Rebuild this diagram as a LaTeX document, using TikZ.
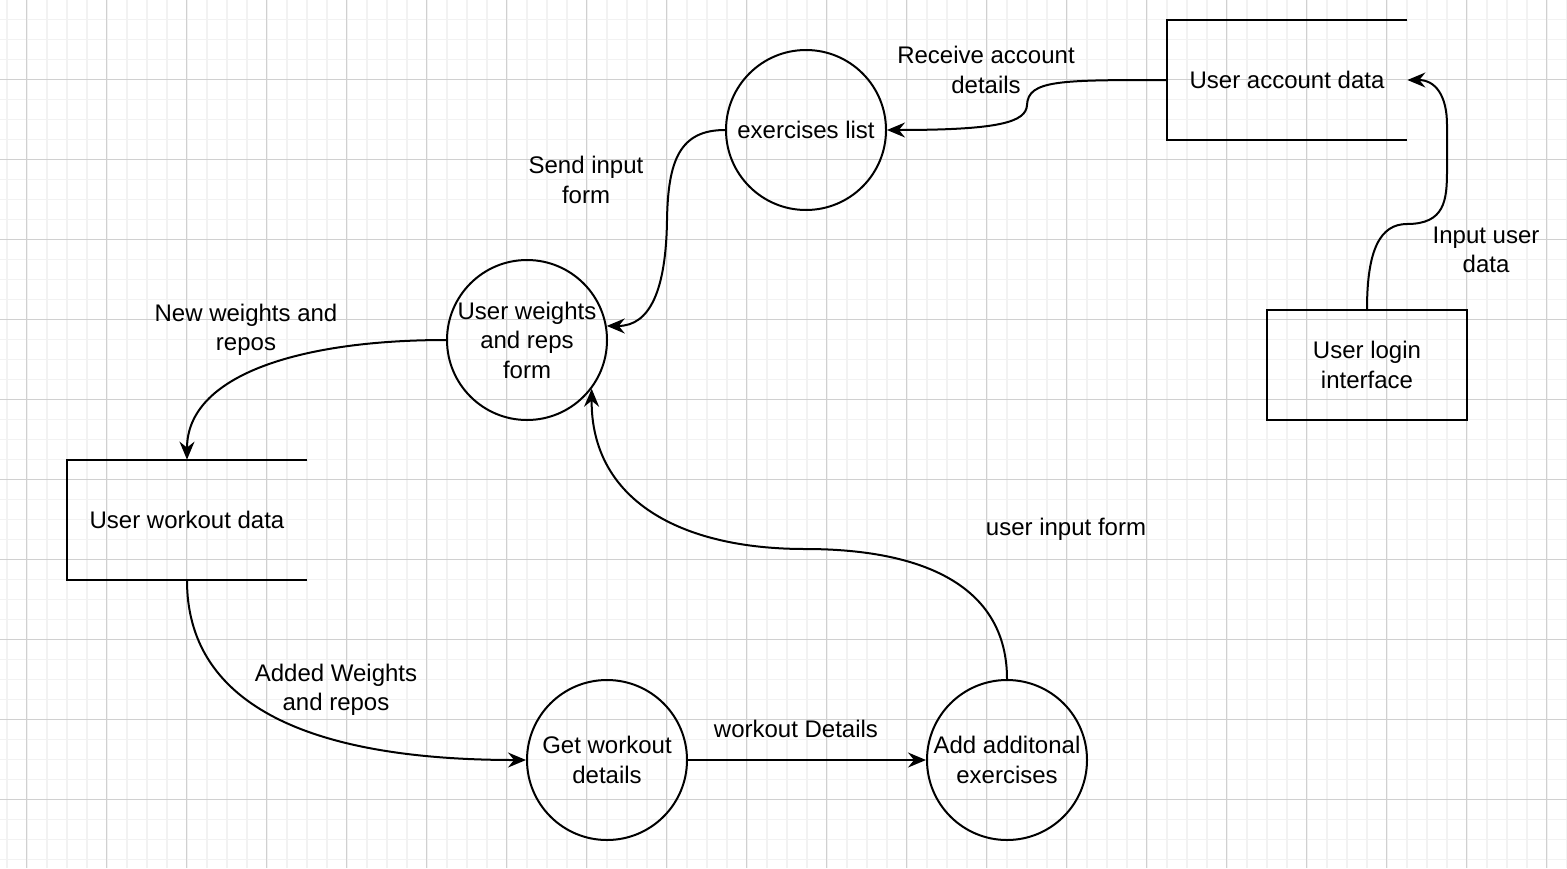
\documentclass[tikz,border=0pt]{standalone}
\usepackage{fontspec}
\setmainfont{Liberation Sans}
\usetikzlibrary{arrows.meta}
\definecolor{gridminor}{HTML}{F2F2F2}
\definecolor{gridmajor}{HTML}{D0D0D0}
\newcommand{\dfdfont}{\fontsize{12}{14.75}\selectfont}

\begin{document}
\begin{tikzpicture}[x=0.5pt, y=-0.5pt,
    proc/.style={circle, draw, line width=1pt, minimum size=80pt, inner sep=0pt, align=center, font=\dfdfont},
    store/.style={minimum width=120pt, minimum height=60pt, inner sep=0pt, font=\dfdfont},
    ext/.style={rectangle, draw, line width=1pt, minimum width=100pt, minimum height=55pt, align=center, font=\dfdfont},
    flow/.style={line width=1pt, -{Stealth[length=9pt, width=7.5pt, inset=3pt]}},
    lbl/.style={align=center, font=\dfdfont, inner sep=0pt}]
    \useasboundingbox (0,0) rectangle (1567,868);

    \foreach \i in {0,...,78} {
      \draw[gridminor, line width=0.8pt] (6.7+20*\i,0) -- (6.7+20*\i,868);
    }
    \foreach \j in {1,...,43} {
      \draw[gridminor, line width=0.8pt] (0,20*\j-0.7) -- (1567,20*\j-0.7);
    }
    \foreach \i in {0,...,19} {
      \draw[gridmajor, line width=0.5pt] (26.7+80*\i,0) -- (26.7+80*\i,868);
    }
    \foreach \j in {0,...,9} {
      \draw[gridmajor, line width=0.5pt] (0,79.3+80*\j) -- (1567,79.3+80*\j);
    }

    \node[proc] (exlist) at (806,130) {exercises list};
    \node[proc] (wform) at (527,340) {User weights\\and reps\\form};
    \node[proc] (getwk) at (607,760) {Get workout\\details};
    \node[proc] (addex) at (1007,760) {Add additonal\\exercises};
    \node[store] (acct) at (1287,80) {User account data};
    \node[store] (wdata) at (187,520) {User workout data};
    \node[ext] (login) at (1367,365) {User login\\interface};

    \draw[line width=1pt] (acct.north east) -- (acct.north west) -- (acct.south west) -- (acct.south east);
    \draw[line width=1pt] (wdata.north east) -- (wdata.north west) -- (wdata.south west) -- (wdata.south east);

    \draw[flow] (acct.west) .. controls (1060,80) and (1028,80) .. (1027,105)
      .. controls (1026,122) and (1000,130) .. (exlist.east);
    \draw[flow] (login.north) .. controls (1367,250) and (1380,224) .. (1407,224)
      .. controls (1445,224) and (1447,200) .. (1447,170) -- (1447,125)
      .. controls (1447,95) and (1435,80) .. (acct.east);
    \draw[flow] (exlist.west) .. controls (680,130) and (668,160) .. (667,220)
      .. controls (666,290) and (650,326) .. (wform.10);
    \draw[flow] (wform.west) .. controls (300,340) and (187,375) .. (wdata.north);
    \draw[flow] (wdata.south) .. controls (187,700) and (300,760) .. (getwk.west);
    \draw[flow] (getwk) -- (addex);
    \draw[flow] (addex.north) .. controls (1007,590) and (930,549) .. (805,549)
      .. controls (680,549) and (591,500) .. (wform.-37);

    \node[lbl] (lrecv) at (986,70) {Receive account\\details};
    \node[lbl] (linput) at (1486,250) {Input user\\data};
    \node[lbl] (lsend) at (586,180) {Send input\\form};
    \node[lbl] (lnew) at (246,330) {New weights and\\repos};
    \node[lbl] (ladded) at (336,690) {Added Weights\\and repos};
    \node[lbl] (lwork) at (796,729) {workout Details};
    \node[lbl] (luser) at (1066,529) {user input form};
\end{tikzpicture}
\end{document}
